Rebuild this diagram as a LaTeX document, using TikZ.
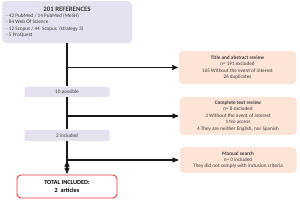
\documentclass[tikz,border=0pt]{standalone}
\usepackage{fontspec}
\setmainfont{Carlito}
\usetikzlibrary{positioning,arrows,calc}
\definecolor{lavbox}{HTML}{E6E1EE}
\definecolor{peachbox}{HTML}{FCE4D6}
\definecolor{redline}{HTML}{F03A3A}
\definecolor{txt}{HTML}{3C3C3C}
\tikzset{->,>=stealth',
shorten >=1pt,
x=1pt,y=-1pt,
el/.style={font=\fontsize{5.2}{6.4}\selectfont,text=txt},
lb/.style={rectangle,rounded corners=1pt,fill=lavbox,inner sep=0pt,el},
pb/.style={rectangle,rounded corners=4pt,fill=peachbox,inner sep=0pt,
  minimum width=117pt,align=center,el},
ln/.style={draw=black!90,line width=1.1pt},
}

\begin{document}
\begin{tikzpicture}
	\useasboundingbox (0,0) rectangle (300,200);

	\node[lb,rounded corners=4pt,minimum width=130pt,minimum height=42pt] (refs) at (67,22) {};
	\node[font=\fontsize{6.8}{7}\selectfont\bfseries,text=txt] (refstitle) at (67,9) {201 REFERENCES};
	\node[el,align=left,anchor=north west,inner sep=0pt] (refslist) at (6,13.2)
		{- 42 PubMed / 14 PubMed (MeSH)\\- 84 Web Of Science\\- 12 Scopus / 44~ Scopus~ (strategy 3)\\- 5 ProQuest};

	\node[lb,minimum width=85pt,minimum height=10pt] (possible) at (67,92) {10 possible};
	\node[lb,minimum width=85pt,minimum height=11pt] (included) at (67,135.5) {2 included};
	\node[rectangle,rounded corners=4pt,draw=redline,line width=0.9pt,fill=white,
		minimum width=100pt,minimum height=23pt,align=center,text=black,
		font=\fontsize{6.2}{7.6}\selectfont\bfseries] (total) at (67,186.5) {TOTAL INCLUDED:\\2~~articles};

	\node[pb,minimum height=33pt] (abstract) at (237.5,67.5)
		{\textbf{Title and abstract review}\\n= 191 excluded\\165 Without the event of interest\\26 duplicates};
	\node[pb,minimum height=38pt] (fulltext) at (238,116)
		{\textbf{Complete text review}\\n= 8 excluded\\3 Without the event of interest\\1 No access\\4 They are neither English, nor Spanish};
	\node[pb,minimum height=26pt] (manual) at (238,160)
		{\textbf{Manual search}\\n= 0 included\\They did not comply with inclusion criteria};

	\coordinate (br1) at (refs.south |- abstract.west);
	\coordinate (br2) at (refs.south |- fulltext.west);
	\coordinate (br3) at (refs.south |- manual.west);

	\path[ln]
	(refs) edge[-] (possible)
	(possible) edge[-] (included)
	(included) edge (total)
	(br1) edge (abstract)
	(br2) edge (fulltext)
	(br3) edge (manual)
	;
\end{tikzpicture}
\end{document}
